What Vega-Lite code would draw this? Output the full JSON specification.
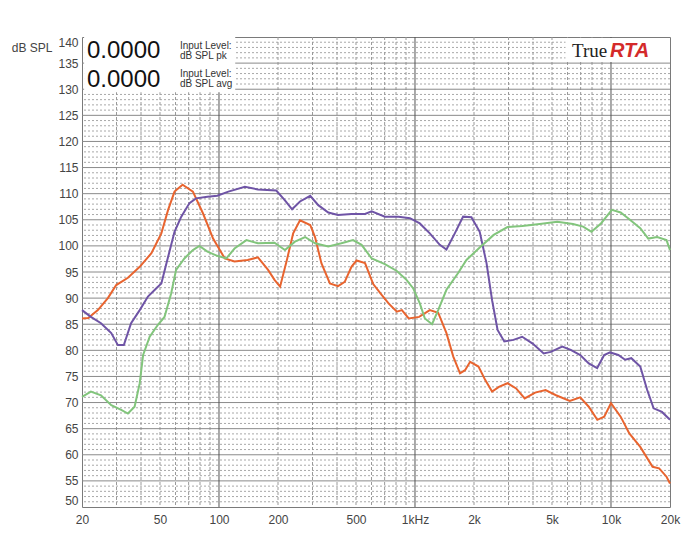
{
  "$schema": "https://vega.github.io/schema/vega-lite/v6.json",
  "width": 588,
  "height": 470,
  "autosize": {"type": "none"},
  "padding": {"left": 82, "top": 37, "right": 16, "bottom": 31},
  "background": "white",
  "config": {"view": {"stroke": "#7a7a7a", "strokeWidth": 1}, "font": "Liberation Sans"},
  "resolve": {"axis": {"x": "independent", "y": "independent"}},
  "datasets": {
    "hminor": [{"db":51},{"db":52},{"db":53},{"db":54},{"db":56},{"db":57},{"db":58},{"db":59},{"db":61},{"db":62},{"db":63},{"db":64},{"db":66},{"db":67},{"db":68},{"db":69},{"db":71},{"db":72},{"db":73},{"db":74},{"db":76},{"db":77},{"db":78},{"db":79},{"db":81},{"db":82},{"db":83},{"db":84},{"db":86},{"db":87},{"db":88},{"db":89},{"db":91},{"db":92},{"db":93},{"db":94},{"db":96},{"db":97},{"db":98},{"db":99},{"db":101},{"db":102},{"db":103},{"db":104},{"db":106},{"db":107},{"db":108},{"db":109},{"db":111},{"db":112},{"db":113},{"db":114},{"db":116},{"db":117},{"db":118},{"db":119},{"db":121},{"db":122},{"db":123},{"db":124},{"db":126},{"db":127},{"db":128},{"db":129},{"db":131},{"db":132},{"db":133},{"db":134},{"db":136},{"db":137},{"db":138},{"db":139}],
    "hmajor": [{"db":55},{"db":60},{"db":65},{"db":70},{"db":75},{"db":80},{"db":85},{"db":90},{"db":95},{"db":100},{"db":105},{"db":110},{"db":115},{"db":120},{"db":125},{"db":130},{"db":135}],
    "vminor": [{"f":30},{"f":40},{"f":50},{"f":60},{"f":70},{"f":80},{"f":90},{"f":200},{"f":300},{"f":400},{"f":500},{"f":600},{"f":700},{"f":800},{"f":900},{"f":2000},{"f":3000},{"f":4000},{"f":5000},{"f":6000},{"f":7000},{"f":8000},{"f":9000}],
    "vmajor": [{"f":100},{"f":1000},{"f":10000}],
    "curves": [
      {"s":"orange","f":20,"db":86.1},{"s":"orange","f":21.5,"db":86.2},{"s":"orange","f":24.1,"db":87.7},{"s":"orange","f":27.1,"db":90.0},{"s":"orange","f":29.9,"db":92.5},{"s":"orange","f":34.3,"db":93.9},{"s":"orange","f":39.4,"db":96.0},{"s":"orange","f":45.2,"db":98.6},{"s":"orange","f":50.8,"db":102.4},{"s":"orange","f":55,"db":106.9},{"s":"orange","f":59.3,"db":110.4},{"s":"orange","f":65.2,"db":111.7},{"s":"orange","f":73.6,"db":110.4},{"s":"orange","f":82.9,"db":106.2},{"s":"orange","f":93.3,"db":101.4},{"s":"orange","f":107,"db":97.6},{"s":"orange","f":120,"db":97.0},{"s":"orange","f":140,"db":97.3},{"s":"orange","f":158,"db":97.8},{"s":"orange","f":178,"db":95.4},{"s":"orange","f":192,"db":93.5},{"s":"orange","f":205,"db":92.2},{"s":"orange","f":222,"db":97.3},{"s":"orange","f":239,"db":102.4},{"s":"orange","f":259,"db":104.9},{"s":"orange","f":292,"db":104.0},{"s":"orange","f":309,"db":101.7},{"s":"orange","f":333,"db":96.7},{"s":"orange","f":368,"db":92.8},{"s":"orange","f":405,"db":92.3},{"s":"orange","f":438,"db":93.1},{"s":"orange","f":474,"db":96.0},{"s":"orange","f":503,"db":97.2},{"s":"orange","f":556,"db":96.7},{"s":"orange","f":612,"db":92.7},{"s":"orange","f":676,"db":90.6},{"s":"orange","f":733,"db":89.0},{"s":"orange","f":808,"db":87.4},{"s":"orange","f":857,"db":87.7},{"s":"orange","f":929,"db":86.1},{"s":"orange","f":1050,"db":86.4},{"s":"orange","f":1190,"db":87.7},{"s":"orange","f":1313,"db":87.2},{"s":"orange","f":1447,"db":83.3},{"s":"orange","f":1568,"db":78.8},{"s":"orange","f":1697,"db":75.6},{"s":"orange","f":1800,"db":76.2},{"s":"orange","f":1911,"db":77.8},{"s":"orange","f":2108,"db":76.9},{"s":"orange","f":2283,"db":74.3},{"s":"orange","f":2473,"db":72.1},{"s":"orange","f":2680,"db":73.0},{"s":"orange","f":2965,"db":73.7},{"s":"orange","f":3281,"db":72.7},{"s":"orange","f":3629,"db":70.8},{"s":"orange","f":4101,"db":71.9},{"s":"orange","f":4636,"db":72.4},{"s":"orange","f":5241,"db":71.4},{"s":"orange","f":6162,"db":70.3},{"s":"orange","f":6967,"db":71.0},{"s":"orange","f":7701,"db":69.2},{"s":"orange","f":8515,"db":66.7},{"s":"orange","f":9233,"db":67.3},{"s":"orange","f":10000,"db":69.9},{"s":"orange","f":11200,"db":67.3},{"s":"orange","f":12400,"db":64.1},{"s":"orange","f":14100,"db":61.5},{"s":"orange","f":16300,"db":57.7},{"s":"orange","f":17600,"db":57.4},{"s":"orange","f":19200,"db":55.8},{"s":"orange","f":20000,"db":54.5},
      {"s":"purple","f":20,"db":87.7},{"s":"purple","f":22.2,"db":86.4},{"s":"purple","f":25,"db":85.2},{"s":"purple","f":28.2,"db":83.3},{"s":"purple","f":30.5,"db":81.0},{"s":"purple","f":32.7,"db":81.0},{"s":"purple","f":35.6,"db":85.2},{"s":"purple","f":39.4,"db":87.7},{"s":"purple","f":43.4,"db":90.3},{"s":"purple","f":47.9,"db":91.9},{"s":"purple","f":50.8,"db":92.8},{"s":"purple","f":55,"db":97.9},{"s":"purple","f":59.3,"db":102.7},{"s":"purple","f":64.2,"db":105.6},{"s":"purple","f":70.7,"db":108.2},{"s":"purple","f":76.3,"db":109.1},{"s":"purple","f":87.3,"db":109.4},{"s":"purple","f":98,"db":109.6},{"s":"purple","f":111.6,"db":110.4},{"s":"purple","f":135.5,"db":111.3},{"s":"purple","f":158,"db":110.8},{"s":"purple","f":196,"db":110.6},{"s":"purple","f":217,"db":108.7},{"s":"purple","f":236,"db":107.0},{"s":"purple","f":259,"db":108.5},{"s":"purple","f":292,"db":109.6},{"s":"purple","f":321,"db":107.8},{"s":"purple","f":361,"db":106.4},{"s":"purple","f":405,"db":105.9},{"s":"purple","f":474,"db":106.1},{"s":"purple","f":556,"db":106.1},{"s":"purple","f":601,"db":106.6},{"s":"purple","f":702,"db":105.6},{"s":"purple","f":824,"db":105.6},{"s":"purple","f":942,"db":105.3},{"s":"purple","f":1058,"db":104.3},{"s":"purple","f":1190,"db":102.4},{"s":"purple","f":1338,"db":100.2},{"s":"purple","f":1447,"db":99.3},{"s":"purple","f":1596,"db":102.4},{"s":"purple","f":1760,"db":105.6},{"s":"purple","f":1940,"db":105.5},{"s":"purple","f":2139,"db":102.7},{"s":"purple","f":2317,"db":96.7},{"s":"purple","f":2473,"db":89.6},{"s":"purple","f":2638,"db":83.9},{"s":"purple","f":2855,"db":81.7},{"s":"purple","f":3178,"db":82.0},{"s":"purple","f":3523,"db":82.6},{"s":"purple","f":3983,"db":81.3},{"s":"purple","f":4535,"db":79.4},{"s":"purple","f":4929,"db":79.7},{"s":"purple","f":5638,"db":80.7},{"s":"purple","f":6230,"db":80.1},{"s":"purple","f":6967,"db":79.1},{"s":"purple","f":7701,"db":77.5},{"s":"purple","f":8500,"db":76.6},{"s":"purple","f":9230,"db":79.1},{"s":"purple","f":9886,"db":79.6},{"s":"purple","f":10900,"db":79.1},{"s":"purple","f":11800,"db":78.2},{"s":"purple","f":12700,"db":78.5},{"s":"purple","f":14100,"db":76.9},{"s":"purple","f":15300,"db":72.4},{"s":"purple","f":16500,"db":68.9},{"s":"purple","f":18200,"db":68.2},{"s":"purple","f":20000,"db":66.7},
      {"s":"green","f":20,"db":71.1},{"s":"green","f":22.2,"db":72.1},{"s":"green","f":25,"db":71.4},{"s":"green","f":28.2,"db":69.5},{"s":"green","f":31.7,"db":68.6},{"s":"green","f":34.3,"db":67.9},{"s":"green","f":37.1,"db":69.2},{"s":"green","f":39.4,"db":73.7},{"s":"green","f":41,"db":79.1},{"s":"green","f":44.3,"db":82.6},{"s":"green","f":48.8,"db":84.9},{"s":"green","f":52.7,"db":86.4},{"s":"green","f":57,"db":90.9},{"s":"green","f":60.4,"db":95.4},{"s":"green","f":66.6,"db":97.6},{"s":"green","f":73.6,"db":99.2},{"s":"green","f":79.4,"db":100.0},{"s":"green","f":87.3,"db":98.9},{"s":"green","f":98,"db":98.1},{"s":"green","f":109,"db":97.6},{"s":"green","f":120,"db":99.5},{"s":"green","f":138,"db":101.1},{"s":"green","f":158,"db":100.5},{"s":"green","f":192,"db":100.6},{"s":"green","f":217,"db":99.2},{"s":"green","f":244,"db":100.8},{"s":"green","f":275,"db":101.7},{"s":"green","f":309,"db":100.5},{"s":"green","f":361,"db":99.9},{"s":"green","f":421,"db":100.5},{"s":"green","f":483,"db":101.1},{"s":"green","f":534,"db":100.2},{"s":"green","f":601,"db":97.6},{"s":"green","f":702,"db":96.5},{"s":"green","f":808,"db":95.2},{"s":"green","f":905,"db":93.5},{"s":"green","f":978,"db":91.9},{"s":"green","f":1058,"db":89.0},{"s":"green","f":1123,"db":86.1},{"s":"green","f":1222,"db":85.0},{"s":"green","f":1313,"db":87.7},{"s":"green","f":1447,"db":91.6},{"s":"green","f":1660,"db":94.8},{"s":"green","f":1830,"db":97.3},{"s":"green","f":2139,"db":99.7},{"s":"green","f":2520,"db":102.1},{"s":"green","f":2965,"db":103.6},{"s":"green","f":3523,"db":103.8},{"s":"green","f":4328,"db":104.2},{"s":"green","f":5318,"db":104.6},{"s":"green","f":6399,"db":104.2},{"s":"green","f":7210,"db":103.7},{"s":"green","f":7950,"db":102.7},{"s":"green","f":8888,"db":104.3},{"s":"green","f":10100,"db":106.9},{"s":"green","f":11200,"db":106.4},{"s":"green","f":12400,"db":105.1},{"s":"green","f":14100,"db":103.4},{"s":"green","f":15500,"db":101.4},{"s":"green","f":17200,"db":101.7},{"s":"green","f":19200,"db":101.1},{"s":"green","f":20000,"db":99.2}
    ],
    "boxes": [
      {"f":20.5,"f2":121,"db":140,"db2":129.4},
      {"f":5860,"f2":20000,"db":139.8,"db2":135.2}
    ],
    "bignum": [
      {"f":21.2,"db":136.0,"t":"0.0000"},
      {"f":21.2,"db":130.4,"t":"0.0000"}
    ],
    "smalltxt": [
      {"f":63.2,"db":137.7,"t":"Input Level:"},
      {"f":63.2,"db":135.8,"t":"dB SPL pk"},
      {"f":63.2,"db":132.3,"t":"Input Level:"},
      {"f":63.2,"db":130.4,"t":"dB SPL avg"}
    ],
    "logo1": [{"f":6325,"db":136.2,"t":"True"}],
    "logo2": [{"f":9886,"db":136.2,"t":"RTA"}]
  },
  "layer": [
    {
      "data": {"name": "hminor"},
      "mark": {"type": "rule", "color": "#a8a8a8", "strokeWidth": 1, "strokeDash": [2, 2]},
      "encoding": {"y": {"field": "db", "type": "quantitative", "scale": {"domain": [50, 140]}, "axis": null}}
    },
    {
      "data": {"name": "vminor"},
      "mark": {"type": "rule", "color": "#9a9a9a", "strokeWidth": 1, "strokeDash": [3, 2]},
      "encoding": {"x": {"field": "f", "type": "quantitative", "scale": {"type": "log", "domain": [20, 20000]}, "axis": null}}
    },
    {
      "data": {"name": "hmajor"},
      "mark": {"type": "rule", "color": "#8a8a8a", "strokeWidth": 1},
      "encoding": {"y": {"field": "db", "type": "quantitative", "scale": {"domain": [50, 140]}, "axis": null}}
    },
    {
      "data": {"name": "vmajor"},
      "mark": {"type": "rule", "color": "#555555", "strokeWidth": 1},
      "encoding": {"x": {"field": "f", "type": "quantitative", "scale": {"type": "log", "domain": [20, 20000]}, "axis": null}}
    },
    {
      "data": {"name": "boxes"},
      "mark": {"type": "rect", "fill": "white"},
      "encoding": {
        "x": {"field": "f", "type": "quantitative", "scale": {"type": "log", "domain": [20, 20000]}, "axis": null},
        "x2": {"field": "f2"},
        "y": {"field": "db", "type": "quantitative", "scale": {"domain": [50, 140]}, "axis": null},
        "y2": {"field": "db2"}
      }
    },
    {
      "data": {"name": "bignum"},
      "mark": {"type": "text", "align": "left", "baseline": "alphabetic", "fontSize": 24, "font": "Liberation Sans", "color": "#111111"},
      "encoding": {
        "x": {"field": "f", "type": "quantitative", "scale": {"type": "log", "domain": [20, 20000]}, "axis": null},
        "y": {"field": "db", "type": "quantitative", "scale": {"domain": [50, 140]}, "axis": null},
        "text": {"field": "t"}
      }
    },
    {
      "data": {"name": "smalltxt"},
      "mark": {"type": "text", "align": "left", "baseline": "alphabetic", "fontSize": 10, "font": "Liberation Sans", "color": "#333333"},
      "encoding": {
        "x": {"field": "f", "type": "quantitative", "scale": {"type": "log", "domain": [20, 20000]}, "axis": null},
        "y": {"field": "db", "type": "quantitative", "scale": {"domain": [50, 140]}, "axis": null},
        "text": {"field": "t"}
      }
    },
    {
      "data": {"name": "logo1"},
      "mark": {"type": "text", "align": "left", "baseline": "alphabetic", "fontSize": 19, "font": "Liberation Serif", "color": "#222222"},
      "encoding": {
        "x": {"field": "f", "type": "quantitative", "scale": {"type": "log", "domain": [20, 20000]}, "axis": null},
        "y": {"field": "db", "type": "quantitative", "scale": {"domain": [50, 140]}, "axis": null},
        "text": {"field": "t"}
      }
    },
    {
      "data": {"name": "logo2"},
      "mark": {"type": "text", "align": "left", "baseline": "alphabetic", "fontSize": 20, "font": "Liberation Sans", "fontWeight": "bold", "fontStyle": "italic", "color": "#d42a2a"},
      "encoding": {
        "x": {"field": "f", "type": "quantitative", "scale": {"type": "log", "domain": [20, 20000]}, "axis": null},
        "y": {"field": "db", "type": "quantitative", "scale": {"domain": [50, 140]}, "axis": null},
        "text": {"field": "t"}
      }
    },
    {
      "data": {"name": "curves"},
      "mark": {"type": "line", "strokeWidth": 2, "interpolate": "linear"},
      "encoding": {
        "x": {
          "field": "f", "type": "quantitative",
          "scale": {"type": "log", "domain": [20, 20000]},
          "axis": {
            "values": [20, 50, 100, 200, 500, 1000, 2000, 5000, 10000, 20000],
            "labelExpr": "datum.value == 1000 ? '1kHz' : (datum.value >= 1000 ? (datum.value / 1000) + 'k' : datum.value + '')",
            "grid": false, "ticks": false, "domain": false,
            "labelPadding": 7, "labelFontSize": 12, "labelColor": "#444444",
            "labelFlush": false, "labelOverlap": false, "title": null
          }
        },
        "y": {
          "field": "db", "type": "quantitative",
          "scale": {"domain": [50, 140]},
          "axis": {
            "values": [50, 55, 60, 65, 70, 75, 80, 85, 90, 95, 100, 105, 110, 115, 120, 125, 130, 135, 140],
            "grid": false, "ticks": false, "domain": false,
            "labelPadding": 4, "labelFontSize": 12, "labelColor": "#444444",
            "labelFlush": true, "labelOverlap": false,
            "title": "dB SPL", "titleAngle": 0, "titleAlign": "right", "titleBaseline": "middle",
            "titleX": -30, "titleY": 10, "titleFontSize": 12, "titleFontWeight": "normal", "titleColor": "#444444"
          }
        },
        "color": {
          "field": "s", "type": "nominal",
          "scale": {"domain": ["orange", "purple", "green"], "range": ["#e8642f", "#6f54a6", "#82c57c"]},
          "legend": null
        },
        "detail": {"field": "s"}
      }
    }
  ]
}
